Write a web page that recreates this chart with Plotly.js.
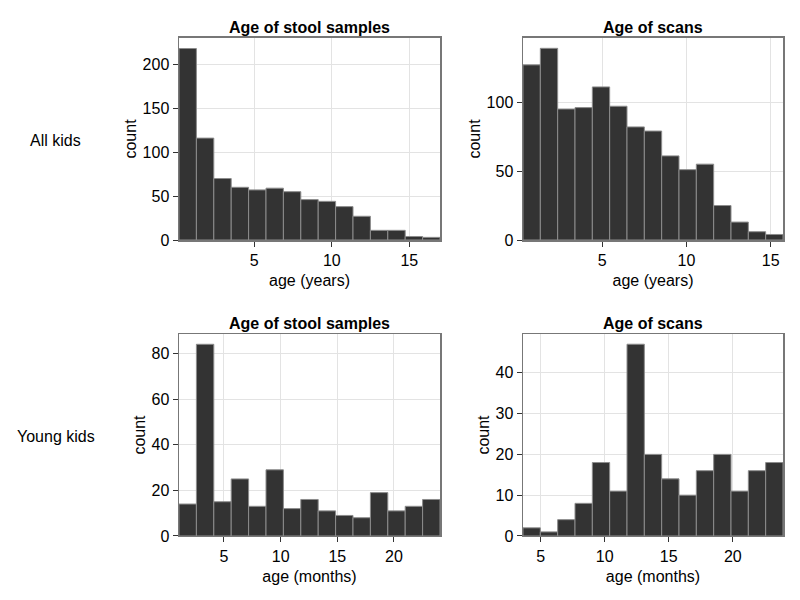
<!DOCTYPE html>
<html>
<head>
<meta charset="utf-8">
<script src="https://cdn.plot.ly/plotly-3.0.1.min.js"></script>
<style>html,body{margin:0;padding:0;background:#fff;}#chart{width:800px;height:600px;}</style>
</head>
<body>
<div id="chart"></div>
<script>
// ---- data (histogram counts, 15 equal bins from min to max of each sample) ----
const stoolAllCounts  = [218,116,70,60,57,59,55,46,44,38,27,11,11,4,3];
const stoolAllLimits  = [0.14, 16.98];      // age (years)
const scanAllCounts   = [127,139,95,96,111,97,82,79,61,51,55,25,13,6,4];
const scanAllLimits   = [0.29, 15.73];      // age (years)
const stoolYoungCounts = [14,84,15,25,13,29,12,16,11,9,8,19,11,13,16];
const stoolYoungLimits = [1.03, 24.06];     // age (months)
const scanYoungCounts  = [2,1,4,8,18,11,47,20,14,10,16,20,11,16,18];
const scanYoungLimits  = [3.62, 23.92];     // age (months)

const rowLabels   = ["All kids", "Young kids"];
const panelTitles = ["Age of stool samples", "Age of scans", "Age of stool samples", "Age of scans"];
const xTitles     = ["age (years)", "age (years)", "age (months)", "age (months)"];

function binTrace(counts, limits, xa, ya) {
  const w = (limits[1] - limits[0]) / counts.length;
  const x = counts.map((_, i) => limits[0] + (i + 0.5) * w);
  return {
    type: 'bar', x: x, y: counts, width: w, xaxis: xa, yaxis: ya,
    marker: {color: '#333333', line: {color: '#8c8c8c', width: 1}},
    showlegend: false, hoverinfo: 'x+y'
  };
}

const traces = [
  binTrace(stoolAllCounts, stoolAllLimits, 'x', 'y'),
  binTrace(scanAllCounts, scanAllLimits, 'x2', 'y2'),
  binTrace(stoolYoungCounts, stoolYoungLimits, 'x3', 'y3'),
  binTrace(scanYoungCounts, scanYoungLimits, 'x4', 'y4')
];

const font = {family: 'Liberation Sans, Arial, sans-serif', size: 16, color: '#000'};
function xax(domain, range, dtick, title, anchor) {
  return {
    domain: domain, range: range, dtick: dtick, tick0: 0, anchor: anchor,
    showgrid: true, gridcolor: '#e3e3e3', gridwidth: 1, zeroline: false,
    showline: true, mirror: true, linecolor: '#777777', linewidth: 1.5,
    ticks: 'outside', ticklen: 5, tickcolor: '#333333',
    ticklabelstandoff: 0,
    tickfont: font, title: {text: title, font: font, standoff: 7}
  };
}
function yax(domain, range, dtick, anchor) {
  return {
    domain: domain, range: range, dtick: dtick, tick0: 0, anchor: anchor,
    showgrid: true, gridcolor: '#e3e3e3', gridwidth: 1, zeroline: false,
    showline: true, mirror: true, linecolor: '#777777', linewidth: 1.5,
    ticks: 'outside', ticklen: 5, tickcolor: '#333333',
    ticklabelstandoff: 0,
    tickfont: font, title: {text: 'count', font: font, standoff: 2}
  };
}

const dL = [0.22375, 0.55], dR = [0.65375, 0.97875];
const dT = [0.6, 0.9367], dB = [0.1067, 0.4433];

const layout = {
  width: 800, height: 600,
  margin: {l: 0, r: 0, t: 0, b: 0},
  paper_bgcolor: '#fff', plot_bgcolor: '#fff',
  font: font, bargap: 0,
  xaxis:  xax(dL, stoolAllLimits, 5, xTitles[0], 'y'),
  yaxis:  yax(dT, [0, 230], 50, 'x'),
  xaxis2: xax(dR, scanAllLimits, 5, xTitles[1], 'y2'),
  yaxis2: yax(dT, [0, 146.5], 50, 'x2'),
  xaxis3: xax(dL, stoolYoungLimits, 5, xTitles[2], 'y3'),
  yaxis3: yax(dB, [0, 88.5], 20, 'x3'),
  xaxis4: xax(dR, scanYoungLimits, 5, xTitles[3], 'y4'),
  yaxis4: yax(dB, [0, 49.5], 10, 'x4'),
  annotations: [
    {text: '<b>' + panelTitles[0] + '</b>', xref: 'paper', yref: 'paper', x: (dL[0]+dL[1])/2, y: dT[1], xanchor: 'center', yanchor: 'bottom', showarrow: false, font: font},
    {text: '<b>' + panelTitles[1] + '</b>', xref: 'paper', yref: 'paper', x: (dR[0]+dR[1])/2, y: dT[1], xanchor: 'center', yanchor: 'bottom', showarrow: false, font: font},
    {text: '<b>' + panelTitles[2] + '</b>', xref: 'paper', yref: 'paper', x: (dL[0]+dL[1])/2, y: dB[1], xanchor: 'center', yanchor: 'bottom', showarrow: false, font: font},
    {text: '<b>' + panelTitles[3] + '</b>', xref: 'paper', yref: 'paper', x: (dR[0]+dR[1])/2, y: dB[1], xanchor: 'center', yanchor: 'bottom', showarrow: false, font: font},
    {text: rowLabels[0], xref: 'paper', yref: 'paper', x: 55/800, y: 1 - 140/600, xanchor: 'center', yanchor: 'middle', showarrow: false, font: font},
    {text: rowLabels[1], xref: 'paper', yref: 'paper', x: 56/800, y: 1 - 436/600, xanchor: 'center', yanchor: 'middle', showarrow: false, font: font}
  ]
};

Plotly.newPlot('chart', traces, layout, {staticPlot: true, displayModeBar: false});
</script>
</body>
</html>
